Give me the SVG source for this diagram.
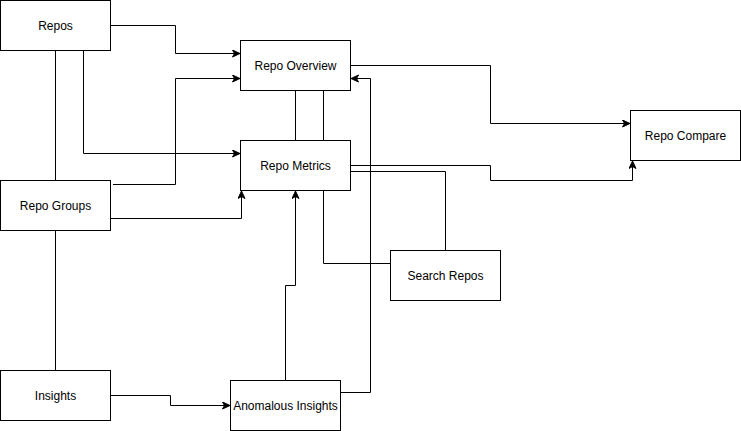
<svg xmlns="http://www.w3.org/2000/svg" width="741" height="431" viewBox="0 0 741 431">
<defs>
<style>
.n rect{fill:#fff;stroke:#000;stroke-width:1}
.n text{font-family:"Liberation Sans",Arial,Helvetica,sans-serif;font-size:12px;fill:#000;text-anchor:middle;dominant-baseline:central}
.e path{fill:none;stroke:#000;stroke-width:1}
.a{marker-end:url(#arr)}
</style>
<marker id="arr" markerUnits="userSpaceOnUse" markerWidth="10" markerHeight="10" refX="8" refY="4" orient="auto">
<path d="M0.5,0.5 L8,4 L0.5,7.5 L2.5,4 Z" fill="#000" stroke="#000" stroke-width="1"/>
</marker>
</defs>
<rect width="741" height="431" fill="#fff"/>
<g id="connectors" class="e">
<path class="a" d="M110.5,25.5 H175.5 V53.5 H240"/>
<path class="a" d="M113,184.5 H175.5 V78.5 H240"/>
<path class="a" d="M83.5,50.5 V153.5 H240"/>
<path d="M55.5,50.5 V180.5"/>
<path d="M55.5,230.5 V370.5"/>
<path class="a" d="M110.5,218.5 H241.5 V191"/>
<path d="M295.5,90.5 V140.5"/>
<path d="M390.5,263.5 H323.5 V90.5"/>
<path class="a" d="M285.5,380.5 V285.5 H295.5 V191"/>
<path class="a" d="M110.5,395.5 H170.5 V405.5 H230"/>
<path class="a" d="M340.5,392.5 H370.5 V78.5 H351"/>
<path class="a" d="M350.5,65.5 H490.5 V123.5 H630"/>
<path class="a" d="M350.5,165.5 H490.5 V180.5 H632.5 V161"/>
<path d="M350.5,171.5 H445.5 V250.5"/>
</g>
<g id="repos" class="n"><rect x="0.5" y="0.5" width="110" height="50"/><text x="55.5" y="25.5">Repos</text></g>
<g id="repo-overview" class="n"><rect x="240.5" y="40.5" width="110" height="50"/><text x="295.5" y="65.5">Repo Overview</text></g>
<g id="repo-metrics" class="n"><rect x="240.5" y="140.5" width="110" height="50"/><text x="295.5" y="165.5">Repo Metrics</text></g>
<g id="repo-groups" class="n"><rect x="0.5" y="180.5" width="110" height="50"/><text x="55.5" y="205.5">Repo Groups</text></g>
<g id="insights" class="n"><rect x="0.5" y="370.5" width="110" height="50"/><text x="55.5" y="395.5">Insights</text></g>
<g id="anomalous-insights" class="n"><rect x="230.5" y="380.5" width="110" height="50"/><text x="285.5" y="405.5">Anomalous Insights</text></g>
<g id="repo-compare" class="n"><rect x="630.5" y="110.5" width="110" height="50"/><text x="685.5" y="135.5">Repo Compare</text></g>
<g id="search-repos" class="n"><rect x="390.5" y="250.5" width="110" height="50"/><text x="445.5" y="275.5">Search Repos</text></g>
</svg>
